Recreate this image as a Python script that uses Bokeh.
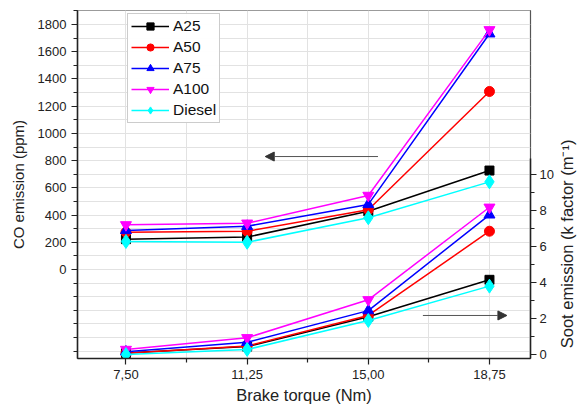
import math
from bokeh.plotting import figure
from bokeh.layouts import row
from bokeh.models import (Range1d, LinearAxis, FixedTicker, Legend, LegendItem,
                          Arrow, NormalHead)
from bokeh.core.properties import value
from bokeh.embed import file_html
from bokeh.resources import INLINE

torque = [7.50, 11.25, 15.00, 18.75]
torque_labels = ["7,50", "11,25", "15,00", "18,75"]

co = {
    "A25":    [223, 238, 428, 727],
    "A50":    [274, 281, 439, 1308],
    "A75":    [287, 318, 478, 1732],
    "A100":   [328, 340, 544, 1761],
    "Diesel": [206, 200, 380, 644],
}
soot = {
    "A25":    [0.08, 0.44, 2.10, 4.15],
    "A50":    [0.07, 0.48, 2.17, 6.85],
    "A75":    [0.15, 0.68, 2.44, 7.76],
    "A100":   [0.28, 0.93, 3.04, 8.18],
    "Diesel": [0.00, 0.28, 1.89, 3.80],
}
series = ["A25", "A50", "A75", "A100", "Diesel"]
colors = {"A25": "black", "A50": "red", "A75": "blue", "A100": "magenta", "Diesel": "cyan"}
markers = {"A25": "square", "A50": "circle", "A75": "triangle",
           "A100": "inverted_triangle", "Diesel": "diamond"}
msize = {"A25": 9, "A50": 10, "A75": 11, "A100": 11, "Diesel": 14}

x_title = "Brake torque (Nm)"
co_title = "CO emission (ppm)"
soot_title = "Soot emission (k factor (m\u207b\u00b9)"

FONT = "Liberation Sans"

p = figure(frame_width=453, frame_height=348, output_backend="svg", toolbar_location=None,
           x_range=Range1d(6.0, 20.02), y_range=Range1d(-654, 1903),
           min_border_left=77, min_border_right=27, min_border_top=10, min_border_bottom=49)
p.extra_y_ranges = {"soot": Range1d(-0.22, 19.11)}
p.background_fill_color = "white"
p.outline_line_color = "#555555"
p.outline_line_width = 1.2

# grids
p.xgrid.ticker = FixedTicker(ticks=[7.5, 9.375, 11.25, 13.125, 15.0, 16.875, 18.75])
p.ygrid.ticker = FixedTicker(ticks=list(range(-600, 1901, 100)))
p.xgrid.grid_line_color = "#e2e2e2"
p.ygrid.grid_line_color = "#e2e2e2"

# x axis
xa = p.xaxis[0]
xa.ticker = FixedTicker(ticks=torque, minor_ticks=[9.375, 13.125, 16.875])
xa.major_label_overrides = {t: l for t, l in zip(torque, torque_labels)}
xa.axis_label = x_title

# left axis
ya = p.yaxis[0]
ya.ticker = FixedTicker(ticks=list(range(0, 1801, 200)),
                        minor_ticks=list(range(-600, 1901, 100)))
ya.axis_label = co_title

# right axis (its title is drawn in the narrow strip to the right)
ra = LinearAxis(y_range_name="soot", bounds=(-0.22, 10.9))
ra.ticker = FixedTicker(ticks=[0, 2, 4, 6, 8, 10], minor_ticks=[1, 3, 5, 7, 9])
p.add_layout(ra, "right")

for ax in [xa, ya, ra]:
    ax.axis_line_color = "#222222"
    ax.axis_line_width = 1.5
    ax.major_tick_line_color = "#222222"
    ax.minor_tick_line_color = "#222222"
    ax.major_tick_line_width = 1.2
    ax.minor_tick_line_width = 1.2
    ax.major_tick_out = 6
    ax.major_tick_in = 0
    ax.minor_tick_out = 4
    ax.minor_tick_in = 0
    ax.major_label_text_font = FONT
    ax.major_label_text_font_size = "13px"
    ax.major_label_text_color = "#222222"
    ax.axis_label_text_font = FONT
    ax.axis_label_text_font_size = "15px"
    ax.axis_label_text_font_style = "normal"
    ax.axis_label_text_color = "#222222"
xa.axis_label_text_font_size = "16.5px"
xa.major_label_standoff = 5
xa.axis_label_standoff = 4
ya.axis_label_standoff = 8
ra.major_label_standoff = 3

items = []
for s in series:
    r1 = p.line(torque, co[s], line_color=colors[s], line_width=1.5)
    r2 = p.scatter(torque, co[s], marker=markers[s], size=msize[s],
                   fill_color=colors[s], line_color=colors[s])
    p.line(torque, soot[s], line_color=colors[s], line_width=1.5, y_range_name="soot")
    p.scatter(torque, soot[s], marker=markers[s], size=msize[s],
              fill_color=colors[s], line_color=colors[s], y_range_name="soot")
    items.append(LegendItem(label=s, renderers=[r1, r2]))

legend = Legend(items=items, location=(50, 235))
legend.label_text_font = FONT
legend.label_text_font_size = "15.5px"
legend.label_text_color = "#111111"
legend.border_line_color = "#999999"
legend.border_line_width = 1.2
legend.glyph_width = 38
legend.glyph_height = 18
legend.label_height = 18
legend.spacing = 3
legend.padding = 3
legend.margin = 0
legend.label_standoff = 4
p.add_layout(legend, "center")

# arrows
arrow_co = dict(x_start=15.30, x_end=11.81, y=830)
arrow_soot = dict(x_start=16.69, x_end=19.29, y=2.17)
p.add_layout(Arrow(end=NormalHead(size=9, fill_color="#333333", line_color="#333333"),
                   x_start=arrow_co["x_start"], y_start=arrow_co["y"],
                   x_end=arrow_co["x_end"], y_end=arrow_co["y"],
                   line_color="#555555", line_width=1))
p.add_layout(Arrow(end=NormalHead(size=9, fill_color="#333333", line_color="#333333"),
                   x_start=arrow_soot["x_start"], y_start=arrow_soot["y"],
                   x_end=arrow_soot["x_end"], y_end=arrow_soot["y"],
                   y_range_name="soot", line_color="#555555", line_width=1))

# narrow strip holding the right-hand axis title, reading bottom to top
strip = figure(width=22, height=407, output_backend="svg", toolbar_location=None,
               x_range=Range1d(0, 22), y_range=Range1d(0, 407),
               x_axis_location=None, y_axis_location=None,
               min_border=0)
strip.outline_line_color = None
strip.xgrid.visible = False
strip.ygrid.visible = False
strip.text(x=[9], y=[134], text=[soot_title], angle=math.pi / 2,
           text_align="center", text_baseline="middle",
           text_font=value(FONT), text_font_size="16.5px", text_color="#222222")

layout = row(p, strip, spacing=0)
open("out.html", "w").write(file_html(layout, INLINE))
